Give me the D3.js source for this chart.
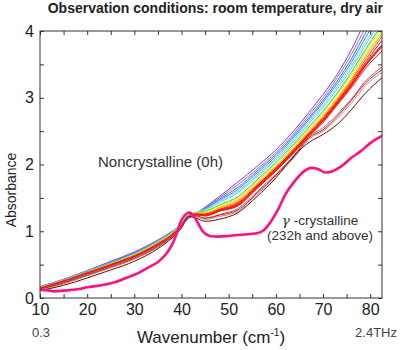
<!DOCTYPE html>
<html>
<head>
<meta charset="utf-8">
<script src="https://cdn.jsdelivr.net/npm/d3@7"></script>
<style>
  body { margin: 0; background: #fff; }
  text { font-family: "Liberation Sans", Arial, sans-serif; }
</style>
</head>
<body>
<div id="content"></div>
<script>
// Wavenumber grid shared by the noncrystalline -> crystallising series.
var waves = [10, 15, 20, 25, 30, 35, 38, 40, 41.5, 43, 45, 48, 52, 56, 60, 64, 67, 70, 73, 76, 79, 82.5];

// Series colours, from top (purple) to bottom (maroon).
var seriesColors = ["#9932cc", "#9370db", "#4169e1", "#1e90ff", "#87cefa", "#40e0d0",
                    "#32cd32", "#adff2f", "#ffd700", "#ffa500", "#ff4500", "#ff0000",
                    "#ff1a1a", "#e02020", "#cd5c5c", "#a52a2a", "#bc8f8f", "#800000"];

// Absorbance values of each series on the grid above.
var series = [
  [0.17, 0.28, 0.41, 0.55, 0.69, 0.87, 1.00, 1.10, 1.19, 1.26, 1.36, 1.52, 1.74, 1.97, 2.22, 2.52, 2.78, 3.05, 3.35, 3.72, 4.15, 4.60],
  [0.17, 0.28, 0.41, 0.54, 0.68, 0.86, 0.99, 1.10, 1.20, 1.26, 1.35, 1.50, 1.70, 1.93, 2.18, 2.48, 2.74, 3.00, 3.30, 3.65, 4.05, 4.50],
  [0.16, 0.27, 0.40, 0.54, 0.67, 0.85, 0.99, 1.10, 1.21, 1.26, 1.34, 1.48, 1.66, 1.90, 2.15, 2.45, 2.70, 2.96, 3.25, 3.58, 3.97, 4.40],
  [0.16, 0.27, 0.40, 0.53, 0.67, 0.85, 0.98, 1.10, 1.22, 1.27, 1.33, 1.46, 1.63, 1.87, 2.12, 2.42, 2.67, 2.93, 3.21, 3.53, 3.90, 4.32],
  [0.16, 0.27, 0.40, 0.53, 0.66, 0.85, 0.99, 1.12, 1.24, 1.28, 1.33, 1.45, 1.60, 1.84, 2.09, 2.39, 2.64, 2.89, 3.17, 3.48, 3.84, 4.24],
  [0.16, 0.27, 0.39, 0.52, 0.66, 0.84, 0.98, 1.12, 1.24, 1.28, 1.32, 1.43, 1.58, 1.82, 2.07, 2.36, 2.61, 2.86, 3.13, 3.44, 3.79, 4.18],
  [0.15, 0.26, 0.39, 0.52, 0.65, 0.83, 0.97, 1.10, 1.23, 1.27, 1.30, 1.39, 1.52, 1.77, 2.03, 2.32, 2.56, 2.80, 3.07, 3.38, 3.72, 4.10],
  [0.15, 0.26, 0.38, 0.51, 0.65, 0.83, 0.97, 1.10, 1.23, 1.27, 1.29, 1.38, 1.50, 1.75, 2.00, 2.30, 2.53, 2.77, 3.04, 3.34, 3.68, 4.05],
  [0.15, 0.26, 0.38, 0.51, 0.64, 0.82, 0.96, 1.10, 1.23, 1.27, 1.28, 1.36, 1.48, 1.73, 1.98, 2.27, 2.51, 2.74, 3.00, 3.30, 3.64, 4.00],
  [0.15, 0.25, 0.38, 0.50, 0.64, 0.82, 0.96, 1.09, 1.23, 1.26, 1.27, 1.35, 1.46, 1.71, 1.97, 2.26, 2.49, 2.72, 2.98, 3.27, 3.61, 3.96],
  [0.15, 0.25, 0.37, 0.50, 0.63, 0.81, 0.95, 1.09, 1.23, 1.26, 1.26, 1.33, 1.44, 1.69, 1.95, 2.24, 2.47, 2.70, 2.96, 3.25, 3.57, 3.92],
  [0.14, 0.25, 0.37, 0.50, 0.63, 0.81, 0.95, 1.09, 1.23, 1.25, 1.25, 1.32, 1.42, 1.68, 1.94, 2.23, 2.46, 2.68, 2.94, 3.22, 3.53, 3.86],
  [0.14, 0.25, 0.37, 0.49, 0.62, 0.80, 0.94, 1.08, 1.23, 1.25, 1.24, 1.31, 1.40, 1.66, 1.92, 2.21, 2.44, 2.66, 2.92, 3.19, 3.49, 3.78],
  [0.14, 0.24, 0.36, 0.49, 0.62, 0.80, 0.94, 1.08, 1.23, 1.25, 1.23, 1.30, 1.38, 1.64, 1.90, 2.19, 2.42, 2.63, 2.89, 3.15, 3.44, 3.70],
  [0.13, 0.23, 0.35, 0.47, 0.60, 0.78, 0.92, 1.07, 1.23, 1.23, 1.20, 1.25, 1.34, 1.59, 1.86, 2.15, 2.42, 2.55, 2.75, 2.98, 3.25, 3.46],
  [0.13, 0.22, 0.34, 0.46, 0.59, 0.77, 0.92, 1.07, 1.23, 1.23, 1.19, 1.24, 1.32, 1.57, 1.84, 2.13, 2.40, 2.52, 2.72, 2.96, 3.22, 3.42],
  [0.12, 0.21, 0.33, 0.45, 0.58, 0.76, 0.91, 1.06, 1.23, 1.22, 1.18, 1.22, 1.30, 1.55, 1.82, 2.11, 2.38, 2.50, 2.69, 2.92, 3.18, 3.38],
  [0.11, 0.19, 0.30, 0.42, 0.55, 0.74, 0.90, 1.05, 1.22, 1.20, 1.15, 1.18, 1.28, 1.52, 1.80, 2.14, 2.33, 2.45, 2.60, 2.82, 3.07, 3.30]
];

// gamma-crystalline (232h and above) spectrum.
var gammaWaves = [10, 12, 13, 15, 18, 20, 23, 26, 29, 31, 33, 35, 36.5, 38, 39, 39.7, 40.5, 41.7, 42.5, 43.5, 44.5, 46, 48, 50, 53, 56, 57.5, 59, 60.5, 62, 64, 66, 67.5, 69, 70.5, 72, 74, 76, 78, 80, 82.5];
var gammaAbs = [0.12, 0.11, 0.10, 0.11, 0.13, 0.16, 0.19, 0.24, 0.32, 0.38, 0.46, 0.54, 0.64, 0.80, 0.97, 1.12, 1.22, 1.28, 1.24, 1.12, 1.00, 0.93, 0.92, 0.93, 0.95, 0.97, 1.02, 1.15, 1.33, 1.55, 1.75, 1.90, 1.95, 1.93, 1.88, 1.90, 1.98, 2.10, 2.20, 2.32, 2.43];

var xTicks = [10, 15, 20, 25, 30, 35, 40, 45, 50, 55, 60, 65, 70, 75, 80];
var yTicks = [0, 0.5, 1, 1.5, 2, 2.5, 3, 3.5, 4];

var margin = {left : 40, right : 18, top : 31, bottom : 52};
var width = 400 - margin.left - margin.right;
var height = 350 - margin.top - margin.bottom;

var svg = d3.select('#content')
              .append('svg')
              .attr('width', 400)
              .attr('height', 350);

var g = svg.append('g').attr('transform', 'translate(' + margin.left + ',' +
                                              margin.top + ')');

var scaleX = d3.scaleLinear().domain([ 10, 82.5 ]).range([ 0, width ]);
var scaleY = d3.scaleLinear().domain([ 0, 4 ]).range([ height, 0 ]);

// Clip the curves to the frame.
svg.append('defs').append('clipPath').attr('id', 'plot')
    .append('rect').attr('width', width).attr('height', height);

var line = d3.line()
               .x(function(d) { return scaleX(d[0]); })
               .y(function(d) { return scaleY(d[1]); })
               .curve(d3.curveMonotoneX);

var curves = g.append('g').attr('clip-path', 'url(#plot)');

series.forEach(function(vals, i) {
  curves.append('path')
      .datum(waves.map(function(w, j) { return [ w, vals[j] ]; }))
      .attr('d', line)
      .attr('fill', 'none')
      .attr('stroke', seriesColors[i])
      .attr('stroke-width', i === 12 ? 2 : 1);
});

curves.append('path')
    .datum(gammaWaves.map(function(w, j) { return [ w, gammaAbs[j] ]; }))
    .attr('d', line)
    .attr('fill', 'none')
    .attr('stroke', '#ff1080')
    .attr('stroke-width', 2.6);

// Axes, ticks pointing inward on all four sides.
function styleAxis(sel) {
  sel.select('.domain').remove();
  sel.selectAll('line').attr('stroke', '#333');
  sel.selectAll('text')
      .style('font-size', '16px')
      .attr('fill', '#222');
}
function fmt(d) { return Number.isInteger(d) ? d : ''; }

g.append('g')
    .attr('transform', 'translate(0,' + height + ')')
    .call(d3.axisBottom(scaleX).tickValues(xTicks).tickSize(-4).tickPadding(6)
              .tickFormat(function(d) { return d % 10 === 0 ? d : ''; }))
    .call(styleAxis);
g.append('g')
    .call(d3.axisTop(scaleX).tickValues(xTicks).tickSize(-4).tickFormat(''))
    .call(styleAxis);
g.append('g')
    .call(d3.axisLeft(scaleY).tickValues(yTicks).tickSize(-4).tickPadding(6).tickFormat(fmt))
    .call(styleAxis);
g.append('g')
    .attr('transform', 'translate(' + width + ',0)')
    .call(d3.axisRight(scaleY).tickValues(yTicks).tickSize(-4).tickFormat(''))
    .call(styleAxis);

g.append('rect')
    .attr('width', width)
    .attr('height', height)
    .attr('fill', 'none')
    .attr('stroke', '#333');

// Title and labels.
svg.append('text')
    .attr('x', 383).attr('y', 13)
    .attr('text-anchor', 'end')
    .style('font-size', '14px').style('font-weight', 'bold')
    .attr('fill', '#222')
    .text('Observation conditions: room temperature, dry air');

svg.append('text')
    .attr('transform', 'translate(16,190) rotate(-90)')
    .attr('text-anchor', 'middle')
    .style('font-size', '14px')
    .attr('fill', '#222')
    .text('Absorbance');

var xl = svg.append('text')
    .attr('x', 211).attr('y', 343)
    .attr('text-anchor', 'middle')
    .style('font-size', '17px')
    .attr('fill', '#222');
xl.append('tspan').text('Wavenumber (cm');
xl.append('tspan').attr('dy', -7).style('font-size', '10px').text('-1');
xl.append('tspan').attr('dy', 7).text(')');

svg.append('text')
    .attr('x', 41).attr('y', 337)
    .attr('text-anchor', 'middle')
    .style('font-size', '13px')
    .attr('fill', '#444')
    .text('0.3');
svg.append('text')
    .attr('x', 397).attr('y', 337)
    .attr('text-anchor', 'end')
    .style('font-size', '13px')
    .attr('fill', '#444')
    .text('2.4THz');

svg.append('text')
    .attr('x', 98).attr('y', 167)
    .style('font-size', '15px')
    .attr('fill', '#333')
    .text('Noncrystalline (0h)');

var gl = svg.append('text')
    .attr('x', 320).attr('y', 225)
    .attr('text-anchor', 'middle')
    .style('font-size', '13.5px')
    .attr('fill', '#333');
gl.append('tspan').style('font-style', 'italic').style('font-family', 'DejaVu Serif').text('\u03b3');
gl.append('tspan').text(' -crystalline');

svg.append('text')
    .attr('x', 320).attr('y', 240)
    .attr('text-anchor', 'middle')
    .style('font-size', '13.5px')
    .attr('fill', '#333')
    .text('(232h and above)');
</script>
</body>
</html>
